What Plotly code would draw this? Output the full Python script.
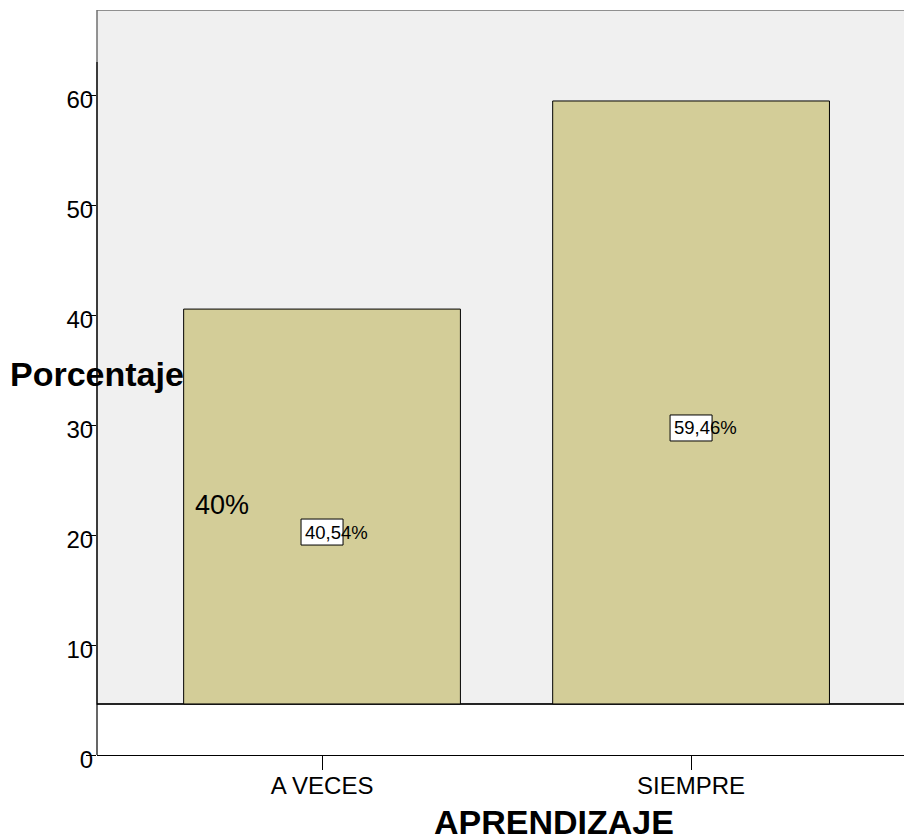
import plotly.graph_objects as go

# ---- data ----
categories = ["A VECES", "SIEMPRE"]
percentages = [40.54, 59.46]
value_labels = ["40,54%", "59,46%"]
y_tick_values = [0, 10, 20, 30, 40, 50, 60]
y_tick_labels = ["0", "10", "20", "30", "40", "50", "60"]
extra_label = "40%"
extra_label_y = 22.7
x_title = "APRENDIZAJE"
y_title = "Porcentaje"

# ---- style constants ----
FONT = "Arial, Liberation Sans, sans-serif"
BAR_COLOR = "#d3cd98"
BG_GRAY = "#f0f0f0"
FLOOR = 4.64          # bottom of the shaded frame (axis units)
Y_TOP = 67.73
Y_LINE_TOP = 63.0

fig = go.Figure()

fig.add_trace(go.Bar(
    x=categories,
    y=[v - FLOOR for v in percentages],
    base=FLOOR,
    width=0.75,
    marker=dict(color=BAR_COLOR, line=dict(color="black", width=1)),
    hoverinfo="skip",
    showlegend=False,
))

shapes = [
    dict(type="rect", xref="paper", yref="y", x0=0, x1=1.01, y0=FLOOR, y1=Y_TOP,
         fillcolor=BG_GRAY, line=dict(color="#707070", width=1.5), layer="below"),
    dict(type="line", xref="paper", yref="y", x0=0, x1=1.01, y0=FLOOR, y1=FLOOR,
         line=dict(color="black", width=1.5), layer="below"),
    dict(type="line", xref="paper", yref="y", x0=0, x1=0, y0=0, y1=Y_LINE_TOP,
         line=dict(color="black", width=1.2), layer="above"),
]

annotations = []
for i, (c, v, lab) in enumerate(zip(categories, percentages, value_labels)):
    shapes.append(dict(type="rect", xref="x", yref="y",
                       xsizemode="pixel", ysizemode="pixel",
                       xanchor=i, yanchor=v / 2,
                       x0=-21, x1=21, y0=-13, y1=13,
                       fillcolor="white", line=dict(color="black", width=1),
                       layer="above"))
    annotations.append(dict(x=i, y=v / 2, xref="x", yref="y", text=lab,
                            showarrow=False, xanchor="left", yanchor="middle",
                            xshift=-19, font=dict(family=FONT, size=18.5, color="black")))

annotations.append(dict(x=0, y=extra_label_y, xref="x", yref="y", text=extra_label,
                        showarrow=False, xanchor="center", yanchor="middle",
                        xshift=-100, font=dict(family=FONT, size=27, color="black")))
annotations.append(dict(x=0, y=34.6, xref="paper", yref="y", text="<b>%s</b>" % y_title,
                        showarrow=False, xanchor="left", yanchor="middle",
                        xshift=-89, font=dict(family=FONT, size=34, color="black")))
annotations.append(dict(x=0.566, y=0, xref="paper", yref="paper", text="<b>%s</b>" % x_title,
                        showarrow=False, xanchor="center", yanchor="middle",
                        yshift=-67, font=dict(family=FONT, size=34, color="black")))

fig.update_layout(
    width=904, height=840,
    margin=dict(l=97, r=0, t=10, b=85),
    paper_bgcolor="white", plot_bgcolor="white",
    shapes=shapes, annotations=annotations,
    font=dict(family=FONT, color="black"),
    xaxis=dict(type="category", range=[-0.6098, 1.577], showline=True,
               linecolor="black", linewidth=1.2, ticks="outside", ticklen=14,
               tickcolor="black", ticklabelstandoff=-5,
               tickfont=dict(family=FONT, size=24, color="black"),
               showgrid=False, zeroline=False, fixedrange=True),
    yaxis=dict(range=[0, Y_TOP], tickvals=y_tick_values, ticktext=y_tick_labels,
               ticks="outside", ticklen=10, tickcolor="black", showline=False,
               ticklabelstandoff=-12, ticklabelshift=5,
               tickfont=dict(family=FONT, size=24, color="black"),
               showgrid=False, zeroline=False, fixedrange=True),
    bargap=0.25,
)

# remove the default page margin so the 904x840 figure fills the window exactly
fig.write_html("out.html", config={"displayModeBar": False},
               post_script="document.body.style.margin='0';document.body.style.overflow='hidden';")
